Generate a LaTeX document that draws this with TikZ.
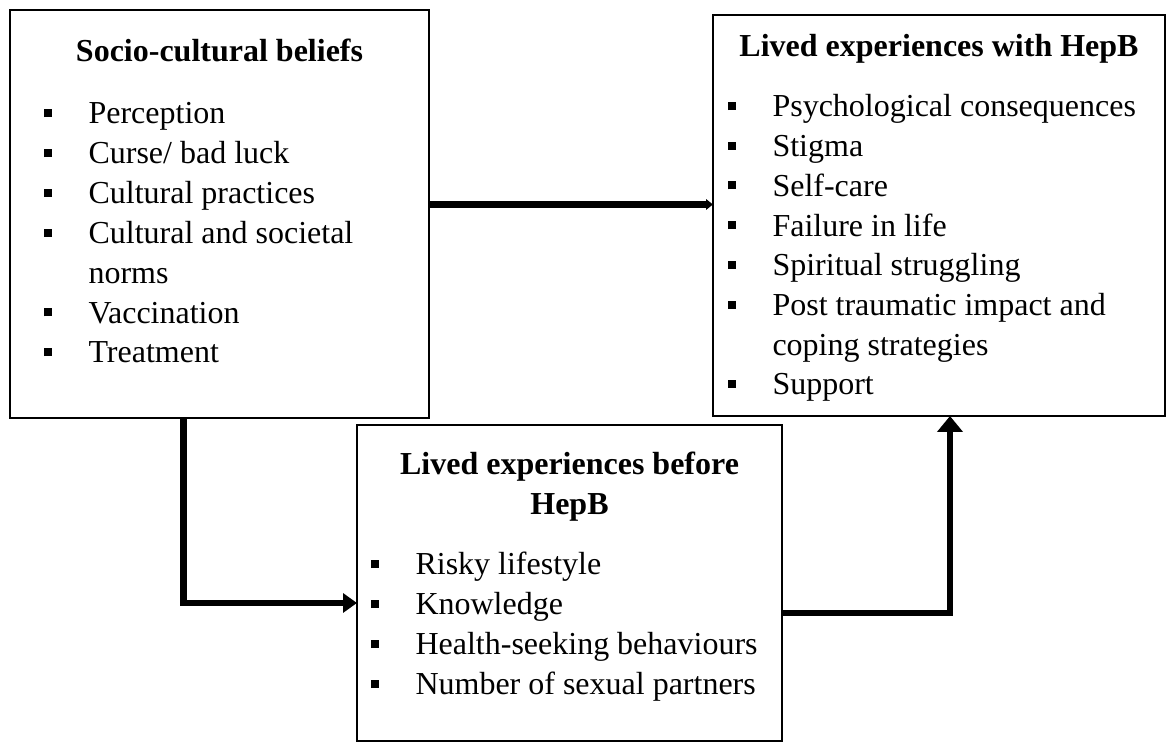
\documentclass[tikz,border=0pt]{standalone}
\usepackage{fontspec}
\setmainfont{Liberation Serif}
\usetikzlibrary{arrows.meta}
\newcommand\bul{\makebox[16.875pt][l]{\rule[2.6pt]{3pt}{3pt}}}
\begin{document}
\begin{tikzpicture}[x=0.375pt,y=-0.375pt,
 box/.style={draw,line width=0.8pt,inner sep=0pt,outer sep=0pt},
 ttl/.style={anchor=base,inner sep=0pt,font=\fontsize{12}{15}\selectfont\bfseries},
 item/.style={anchor=base west,inner sep=0pt,font=\fontsize{12}{15}\selectfont},
 conn/.style={line width=2.44pt}]
\useasboundingbox (0,0) rectangle (1166,743);
% boxes
\node[box,minimum width=419*0.375pt,minimum height=408*0.375pt] (b1) at (219.5,214) {};
\node[box,minimum width=452*0.375pt,minimum height=401*0.375pt] (b2) at (939,215.5) {};
\node[box,minimum width=425*0.375pt,minimum height=316*0.375pt] (b3) at (569.5,583) {};
% box 1 text
\node[ttl] (t1) at (219.5,62) {Socio-cultural beliefs};
\node[item] (i11) at (43,124) {\bul Perception};
\node[item] (i12) at (43,164) {\bul Curse/ bad luck};
\node[item] (i13) at (43,203.8) {\bul Cultural practices};
\node[item] (i14) at (43,243.6) {\bul Cultural and societal};
\node[item] (i14b) at (88,283.4) {norms};
\node[item] (i15) at (43,323.2) {\bul Vaccination};
\node[item] (i16) at (43,363) {\bul Treatment};
% box 2 text
\node[ttl] (t2) at (939,57) {Lived experiences with HepB};
\node[item] (i21) at (727,117) {\bul Psychological consequences};
\node[item] (i22) at (727,156.7) {\bul Stigma};
\node[item] (i23) at (727,196.4) {\bul Self-care};
\node[item] (i24) at (727,236.1) {\bul Failure in life};
\node[item] (i25) at (727,275.8) {\bul Spiritual struggling};
\node[item] (i26) at (727,315.5) {\bul Post traumatic impact and};
\node[item] (i26b) at (772,355.2) {coping strategies};
\node[item] (i27) at (727,394.9) {\bul Support};
% box 3 text
\node[ttl] (t3a) at (569.5,475) {Lived experiences before};
\node[ttl] (t3b) at (569.5,515) {HepB};
\node[item] (i31) at (370,575) {\bul Risky lifestyle};
\node[item] (i32) at (370,615) {\bul Knowledge};
\node[item] (i33) at (370,655) {\bul Health-seeking behaviours};
\node[item] (i34) at (370,695) {\bul Number of sexual partners};
% connector helper coordinates
\coordinate (y1) at (0,204.5);
\coordinate (x2) at (183.5,0);
\coordinate (y2) at (0,603);
\coordinate (y3) at (0,613);
\coordinate (x3) at (950,0);
% connectors
\draw[conn,-{Triangle[length=2.6pt,width=3.9pt]}] (b1.east |- y1) -- (b2.west |- y1);
\draw[conn,-{Triangle[length=5.25pt,width=7.1pt]}] (b1.south -| x2) |- (b3.west |- y2);
\draw[conn,-{Triangle[length=6pt,width=9.4pt]}] (b3.east |- y3) -| (b2.south -| x3);
\end{tikzpicture}
\end{document}
